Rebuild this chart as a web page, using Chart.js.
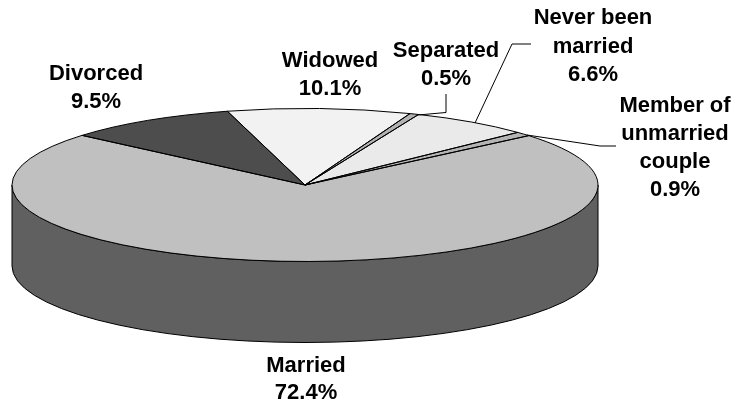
<!DOCTYPE html>
<html>
<head>
<meta charset="utf-8">
<style>html,body{margin:0;padding:0;background:#fff}canvas{display:block}</style>
<script src="https://cdn.jsdelivr.net/npm/chart.js@4"></script>
</head>
<body>
<canvas id="c" width="738" height="406"></canvas>
<script>
const categories = ['Married', 'Divorced', 'Widowed', 'Separated', 'Never been married', 'Member of unmarried couple'];
const values = [72.4, 9.5, 10.1, 0.5, 6.6, 0.9];
const sliceColors = ['#c0c0c0', '#4d4d4d', '#f2f2f2', '#b2b2b2', '#eaeaea', '#b4b4b4'];
const labelLines = [['Married'], ['Divorced'], ['Widowed'], ['Separated'], ['Never been', 'married'], ['Member of', 'unmarried', 'couple']];

const SQUASH = 76.5 / 293, DEPTH = 81, WALL = '#606060';
const FONT = 'bold 22px "Liberation Sans", Arial, sans-serif';
// label layout: centre x, first baseline y, line step
const labelPos = [[306, 372, 27], [96, 80, 28], [330, 67, 28], [446, 57, 28], [593, 24, 28.5], [675, 112, 28]];
// leader polylines
const leaders = [[[418, 115], [446, 112.5], [446, 94]], [[475, 123], [512, 44], [531, 44]], [[527, 135], [600, 146], [616, 146]]];

const pie3d = {
  id: 'pie3d',
  beforeDatasetsDraw(chart) {
    const a = chart.getDatasetMeta(0).data[0], ctx = chart.ctx;
    const cx = a.x, cy = a.y, r = a.outerRadius, ry = r * SQUASH;
    ctx.save();
    ctx.beginPath();
    ctx.ellipse(cx, cy, r, ry, 0, 0, Math.PI);
    ctx.lineTo(cx - r, cy + DEPTH);
    ctx.ellipse(cx, cy + DEPTH, r, ry, 0, Math.PI, 0, true);
    ctx.closePath();
    ctx.fillStyle = WALL;
    ctx.fill();
    ctx.strokeStyle = '#000';
    ctx.lineWidth = 1;
    ctx.stroke();
    ctx.restore();
    ctx.save();
    ctx.translate(cx, cy);
    ctx.scale(1, SQUASH);
    ctx.translate(-cx, -cy);
  },
  afterDatasetsDraw(chart) {
    const ctx = chart.ctx;
    ctx.restore();
    ctx.save();
    ctx.strokeStyle = '#000';
    ctx.lineWidth = 1;
    ctx.lineJoin = 'round';
    chart.getDatasetMeta(0).data.forEach(a => {
      const ry = a.outerRadius * SQUASH;
      ctx.beginPath();
      ctx.moveTo(a.x, a.y);
      ctx.ellipse(a.x, a.y, a.outerRadius, ry, 0, a.startAngle, a.endAngle);
      ctx.closePath();
      ctx.stroke();
    });
    leaders.forEach(p => {
      ctx.beginPath();
      p.forEach((q, i) => i ? ctx.lineTo(q[0], q[1]) : ctx.moveTo(q[0], q[1]));
      ctx.stroke();
    });
    ctx.fillStyle = '#000';
    ctx.font = FONT;
    ctx.textAlign = 'center';
    ctx.textBaseline = 'alphabetic';
    categories.forEach((c, i) => {
      const lines = labelLines[i].concat([values[i].toFixed(1) + '%']);
      const [x, y, step] = labelPos[i];
      lines.forEach((t, k) => ctx.fillText(t, x, y + k * step));
    });
    ctx.restore();
  }
};

new Chart(document.getElementById('c'), {
  type: 'pie',
  data: {
    labels: categories,
    datasets: [{ data: values, backgroundColor: sliceColors, borderWidth: 0, clip: false }]
  },
  options: {
    responsive: false,
    animation: false,
    rotation: 49.8,
    radius: 293,
    layout: { padding: { left: 0, top: 0, right: 128, bottom: 36 } },
    plugins: { legend: { display: false }, tooltip: { enabled: false } },
    events: []
  },
  plugins: [pie3d]
});
</script>
</body>
</html>
